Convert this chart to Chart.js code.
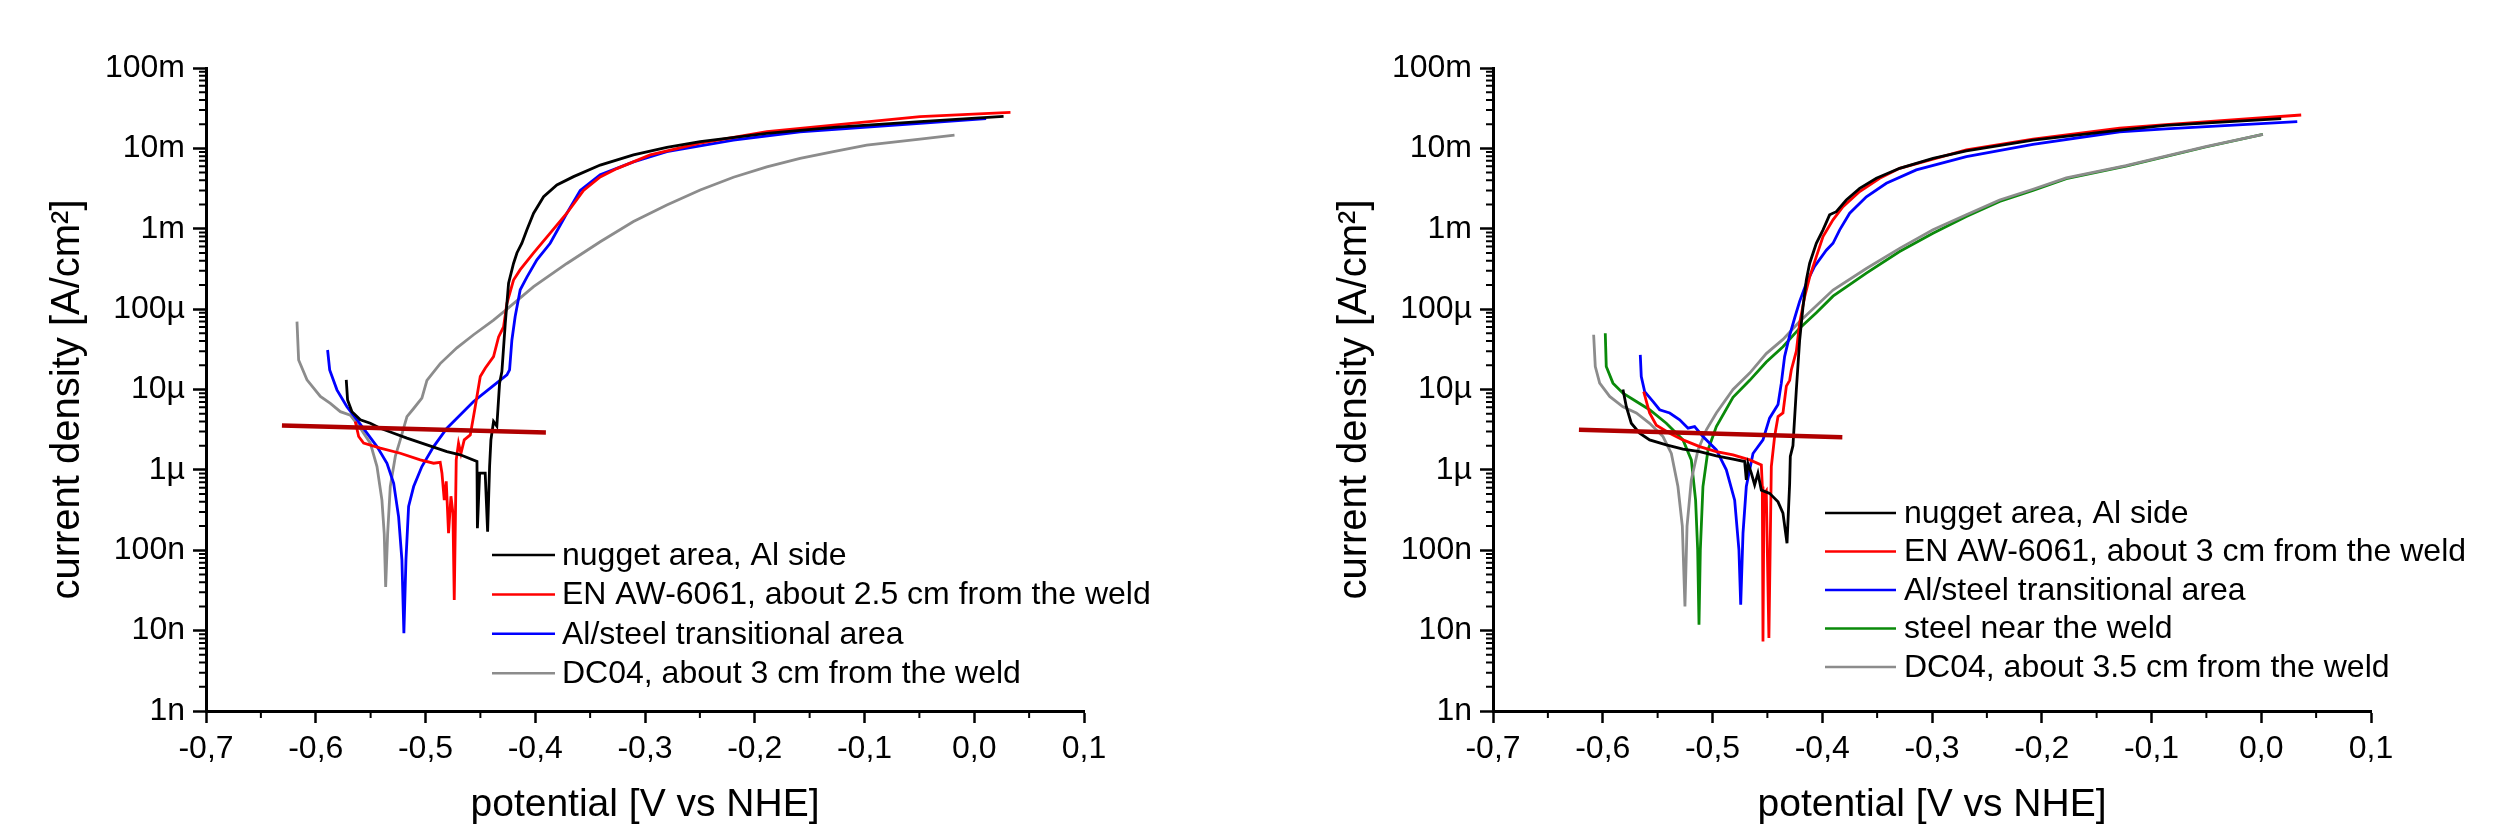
<!DOCTYPE html>
<html>
<head>
<meta charset="utf-8">
<title>Polarization curves</title>
<script src="https://cdn.jsdelivr.net/npm/chart.js@4.4.1/dist/chart.umd.min.js"></script>
<style>
  html, body { margin: 0; padding: 0; background: #fff; }
  #wrap { position: relative; width: 2499px; height: 837px; }
  canvas { position: absolute; top: 0; }
  #leftChart { left: 0; }
  #rightChart { left: 1250px; }
</style>
</head>
<body>
<div id="wrap">
  <canvas id="leftChart" width="1250" height="837"></canvas>
  <canvas id="rightChart" width="1249" height="837"></canvas>
</div>
<script>
// Axis ticks
const xTickValues = [-0.7, -0.6, -0.5, -0.4, -0.3, -0.2, -0.1, 0.0, 0.1];
const xTickLabels = ['-0,7', '-0,6', '-0,5', '-0,4', '-0,3', '-0,2', '-0,1', '0,0', '0,1'];
const xMinorValues = [-0.65, -0.55, -0.45, -0.35, -0.25, -0.15, -0.05, 0.05];
const yTickValues = [1e-9, 1e-8, 1e-7, 1e-6, 1e-5, 1e-4, 1e-3, 1e-2, 1e-1];
const yTickLabels = ['1n', '10n', '100n', '1µ', '10µ', '100µ', '1m', '10m', '100m'];
const yMinorSteps = [2, 3, 4, 5, 6, 7, 8, 9];

// Legend labels
const leftLabels = ['nugget area, Al side', 'EN AW-6061, about 2.5 cm from the weld', 'Al/steel transitional area', 'DC04, about 3 cm from the weld'];
const rightLabels = ['nugget area, Al side', 'EN AW-6061, about 3 cm from the weld', 'Al/steel transitional area', 'steel near the weld', 'DC04, about 3.5 cm from the weld'];

// ---- left panel: potential [V] and current density [A/cm2]
const leftNuggetV = [-0.5722, -0.571, -0.567, -0.5594, -0.5503, -0.5412, -0.529, -0.5169, -0.4987, -0.4805, -0.4683, -0.4531, -0.4527, -0.4507, -0.4456, -0.4434, -0.4416, -0.4404, -0.438, -0.435, -0.4325, -0.4304, -0.4273, -0.4243, -0.4198, -0.4167, -0.4122, -0.4076, -0.4015, -0.3924, -0.3803, -0.3651, -0.3408, -0.3105, -0.2801, -0.2497, -0.189, -0.1283, -0.0494, 0.0267];
const leftNuggetI = [1.32e-5, 7.4e-6, 5.3e-6, 4.2e-6, 3.8e-6, 3.3e-6, 2.86e-6, 2.48e-6, 2.05e-6, 1.69e-6, 1.54e-6, 1.27e-6, 1.88e-7, 9.1e-7, 9.1e-7, 1.7e-7, 1.1e-6, 2.36e-6, 4.0e-6, 3.5e-6, 1.2e-5, 1.67e-5, 6.7e-5, 2.1e-4, 3.7e-4, 5.0e-4, 6.6e-4, 9.7e-4, 1.56e-3, 2.5e-3, 3.5e-3, 4.45e-3, 6.2e-3, 8.3e-3, 1.03e-2, 1.21e-2, 1.54e-2, 1.83e-2, 2.15e-2, 2.5e-2];

const leftAw6061V = [-0.564, -0.5609, -0.5564, -0.5412, -0.523, -0.5048, -0.4926, -0.4866, -0.485, -0.4829, -0.4811, -0.479, -0.4768, -0.475, -0.4738, -0.472, -0.4699, -0.4677, -0.4647, -0.4592, -0.4547, -0.4501, -0.4456, -0.438, -0.4334, -0.4289, -0.4258, -0.4198, -0.4137, -0.4015, -0.3864, -0.3712, -0.356, -0.3408, -0.3256, -0.2953, -0.2497, -0.189, -0.1283, -0.0494, 0.033];
const leftAw6061I = [4.0e-6, 2.6e-6, 2.15e-6, 1.86e-6, 1.61e-6, 1.33e-6, 1.21e-6, 1.24e-6, 9.1e-7, 4.2e-7, 7.2e-7, 1.63e-7, 4.7e-7, 2.9e-7, 2.4e-8, 1.33e-6, 2.15e-6, 1.6e-6, 2.36e-6, 2.72e-6, 6.1e-6, 1.45e-5, 1.84e-5, 2.57e-5, 4.5e-5, 6.0e-5, 1.18e-4, 2.3e-4, 3.1e-4, 5.0e-4, 8.8e-4, 1.56e-3, 3.0e-3, 4.4e-3, 5.6e-3, 8.3e-3, 1.16e-2, 1.61e-2, 1.95e-2, 2.48e-2, 2.8e-2];

const leftTransV = [-0.5892, -0.5873, -0.5807, -0.5716, -0.5624, -0.5533, -0.5442, -0.5351, -0.529, -0.5245, -0.5215, -0.5197, -0.5178, -0.5154, -0.5108, -0.5033, -0.4926, -0.4805, -0.4714, -0.4562, -0.441, -0.4258, -0.4234, -0.4213, -0.4183, -0.4137, -0.4076, -0.3985, -0.3864, -0.3712, -0.359, -0.3408, -0.3105, -0.2801, -0.2194, -0.1587, -0.0494, 0.0108];
const leftTransI = [3.1e-5, 1.75e-5, 9.9e-6, 6.1e-6, 4.2e-6, 2.86e-6, 1.95e-6, 1.21e-6, 6.8e-7, 2.6e-7, 7.6e-8, 9.3e-9, 7.6e-8, 3.5e-7, 6.2e-7, 1.1e-6, 1.95e-6, 3.3e-6, 4.4e-6, 7.1e-6, 1.04e-5, 1.52e-5, 1.75e-5, 4.1e-5, 8.1e-5, 1.74e-4, 2.5e-4, 4.1e-4, 6.6e-4, 1.56e-3, 3.0e-3, 4.7e-3, 6.8e-3, 9.1e-3, 1.27e-2, 1.61e-2, 2.05e-2, 2.35e-2];

const leftDc04V = [-0.6171, -0.6156, -0.608, -0.5958, -0.5867, -0.5776, -0.5685, -0.5594, -0.5503, -0.5442, -0.5397, -0.5376, -0.5363, -0.5345, -0.5321, -0.5275, -0.523, -0.5169, -0.5108, -0.5033, -0.4987, -0.4866, -0.4714, -0.4562, -0.438, -0.4258, -0.4015, -0.3712, -0.3408, -0.3105, -0.2801, -0.2497, -0.2194, -0.189, -0.1587, -0.1283, -0.098, -0.0494, -0.018];
const leftDc04I = [7.0e-5, 2.33e-5, 1.32e-5, 8.2e-6, 6.7e-6, 5.3e-6, 4.8e-6, 3.3e-6, 2.15e-6, 1.1e-6, 4.2e-7, 1.6e-7, 3.5e-8, 1.6e-7, 6.2e-7, 1.47e-6, 2.36e-6, 4.6e-6, 5.8e-6, 7.8e-6, 1.3e-5, 2.1e-5, 3.3e-5, 4.8e-5, 7.3e-5, 1.0e-4, 1.9e-4, 3.7e-4, 6.9e-4, 1.23e-3, 1.98e-3, 3.04e-3, 4.37e-3, 5.9e-3, 7.5e-3, 9.1e-3, 1.1e-2, 1.3e-2, 1.46e-2];

const leftFitV = [-0.6308, -0.3903];
const leftFitI = [3.56e-6, 2.91e-6];

// ---- right panel
const rightNuggetV = [-0.5816, -0.5785, -0.574, -0.5664, -0.5573, -0.5421, -0.5269, -0.5117, -0.4965, -0.4813, -0.4707, -0.4692, -0.4677, -0.4646, -0.4616, -0.4586, -0.4555, -0.4479, -0.4403, -0.4358, -0.4321, -0.4297, -0.4291, -0.4267, -0.4236, -0.4206, -0.4175, -0.4145, -0.4115, -0.4054, -0.3993, -0.3933, -0.3872, -0.3781, -0.3659, -0.3507, -0.3295, -0.2991, -0.2687, -0.208, -0.129, -0.0871, 0.0182];
const rightNuggetI = [1.0e-5, 6.1e-6, 3.8e-6, 2.86e-6, 2.36e-6, 2.05e-6, 1.81e-6, 1.69e-6, 1.49e-6, 1.36e-6, 1.27e-6, 7.5e-7, 1.2e-6, 9.1e-7, 6.5e-7, 9.1e-7, 5.6e-7, 5.1e-7, 4.0e-7, 2.9e-7, 1.22e-7, 6.8e-7, 1.47e-6, 2.0e-6, 1.0e-5, 4.1e-5, 1.08e-4, 2.3e-4, 3.7e-4, 6.6e-4, 9.7e-4, 1.49e-3, 1.63e-3, 2.28e-3, 3.18e-3, 4.25e-3, 5.65e-3, 7.5e-3, 9.3e-3, 1.27e-2, 1.69e-2, 1.93e-2, 2.35e-2];

const rightAw6061V = [-0.5627, -0.5573, -0.5512, -0.539, -0.5269, -0.5117, -0.4965, -0.4813, -0.4661, -0.4555, -0.4546, -0.454, -0.4531, -0.451, -0.4486, -0.4464, -0.4434, -0.4403, -0.4358, -0.4327, -0.4297, -0.4282, -0.4236, -0.4206, -0.416, -0.4115, -0.4054, -0.3993, -0.3902, -0.3811, -0.3659, -0.3477, -0.3295, -0.2687, -0.208, -0.129, -0.0871, 0.0364];
const rightAw6061I = [9.4e-6, 5.1e-6, 3.6e-6, 2.86e-6, 2.36e-6, 1.95e-6, 1.69e-6, 1.54e-6, 1.33e-6, 1.15e-6, 6.2e-7, 7.3e-9, 5.0e-7, 5.5e-7, 8.1e-9, 1.1e-6, 2.6e-6, 4.6e-6, 5.1e-6, 1.1e-5, 1.3e-5, 1.75e-5, 3.0e-5, 6.7e-5, 1.43e-4, 2.5e-4, 4.5e-4, 8.0e-4, 1.29e-3, 1.88e-3, 2.9e-3, 4.25e-3, 5.65e-3, 9.6e-3, 1.3e-2, 1.78e-2, 1.98e-2, 2.6e-2];

const rightTransV = [-0.5658, -0.5649, -0.5618, -0.5543, -0.5482, -0.539, -0.5299, -0.5223, -0.5163, -0.5087, -0.4965, -0.4874, -0.4798, -0.4759, -0.4743, -0.4722, -0.4692, -0.4631, -0.454, -0.448, -0.4403, -0.4373, -0.4343, -0.4297, -0.4252, -0.4206, -0.4145, -0.407, -0.3963, -0.3902, -0.3841, -0.375, -0.3598, -0.3416, -0.3143, -0.2687, -0.208, -0.129, -0.087, 0.0328];
const rightTransI = [2.7e-5, 1.45e-5, 9.4e-6, 7.1e-6, 5.6e-6, 5.1e-6, 4.2e-6, 3.3e-6, 3.46e-6, 2.6e-6, 1.77e-6, 1.0e-6, 4.2e-7, 1.0e-7, 2.1e-8, 1.63e-7, 6.2e-7, 1.6e-6, 2.36e-6, 4.4e-6, 6.5e-6, 1.2e-5, 2.57e-5, 4.7e-5, 7.7e-5, 1.25e-4, 2.1e-4, 3.4e-4, 5.4e-4, 6.6e-4, 9.7e-4, 1.56e-3, 2.5e-3, 3.68e-3, 5.4e-3, 7.9e-3, 1.12e-2, 1.61e-2, 1.75e-2, 2.15e-2];

const rightSteelV = [-0.5977, -0.5968, -0.5907, -0.5816, -0.5694, -0.5573, -0.5421, -0.5269, -0.5193, -0.5154, -0.5135, -0.5123, -0.5111, -0.5087, -0.5041, -0.4965, -0.4813, -0.4661, -0.451, -0.4358, -0.4206, -0.4054, -0.3902, -0.3598, -0.3295, -0.2991, -0.2687, -0.2384, -0.208, -0.1776, -0.1233, -0.0507, 0.0015];
const rightSteelI = [5.0e-5, 1.93e-5, 1.2e-5, 9.0e-6, 7.1e-6, 5.6e-6, 3.8e-6, 2.36e-6, 1.33e-6, 4.2e-7, 1.0e-7, 1.18e-8, 1.0e-7, 6.2e-7, 1.77e-6, 3.46e-6, 8.0e-6, 1.3e-5, 2.2e-5, 3.4e-5, 5.8e-5, 9.0e-5, 1.45e-4, 2.8e-4, 5.2e-4, 8.8e-4, 1.42e-3, 2.18e-3, 3.0e-3, 4.2e-3, 6.0e-3, 1.04e-2, 1.49e-2];

const rightDc04V = [-0.6083, -0.6068, -0.6028, -0.5937, -0.5816, -0.5694, -0.5573, -0.5451, -0.5375, -0.5315, -0.5275, -0.5251, -0.5232, -0.5193, -0.5132, -0.5056, -0.4965, -0.4813, -0.4661, -0.451, -0.4358, -0.4206, -0.3902, -0.3598, -0.3295, -0.2991, -0.2687, -0.2384, -0.208, -0.1776, -0.1233, -0.0507, 0.0015];
const rightDc04I = [4.8e-5, 1.93e-5, 1.2e-5, 8.2e-6, 6.1e-6, 5.1e-6, 3.8e-6, 2.6e-6, 1.6e-6, 6.2e-7, 2.0e-7, 2.0e-8, 2.0e-7, 7.5e-7, 1.77e-6, 3.15e-6, 5.1e-6, 1.0e-5, 1.6e-5, 2.8e-5, 4.2e-5, 7.0e-5, 1.73e-4, 3.2e-4, 5.7e-4, 9.7e-4, 1.49e-3, 2.28e-3, 3.1e-3, 4.3e-3, 6.1e-3, 1.05e-2, 1.49e-2];

const rightFitV = [-0.6217, -0.3817];
const rightFitI = [3.15e-6, 2.55e-6];

// colours
const cBlack = '#000000', cRed = '#ff0000', cBlue = '#0000ff', cGreen = '#0a8a0a', cGray = '#8c8c8c', cFit = '#b00000';

Chart.defaults.font.family = '"Liberation Sans", Arial, sans-serif';
Chart.defaults.color = '#000';

// minor ticks on both axes
const minorTicks = {
    id: 'minorTicks',
    afterDraw(chart) {
        const { ctx, scales: { x, y } } = chart;
        ctx.save();
        ctx.strokeStyle = '#000';
        ctx.lineWidth = 2;
        ctx.beginPath();
        for (let d = 0; d < yTickValues.length - 1; d++) {
            yMinorSteps.forEach(k => {
                const py = y.getPixelForValue(k * yTickValues[d]);
                ctx.moveTo(y.right - 7, py);
                ctx.lineTo(y.right, py);
            });
        }
        xMinorValues.forEach(v => {
            const px = x.getPixelForValue(v);
            ctx.moveTo(px, x.top);
            ctx.lineTo(px, x.top + 7);
        });
        ctx.stroke();
        ctx.restore();
    }
};

// legend drawn inside the plot, like the original
const panelLegend = {
    id: 'panelLegend',
    afterDraw(chart, args, opts) {
        const ctx = chart.ctx;
        const items = chart.data.datasets.filter(d => d.inLegend);
        ctx.save();
        ctx.font = '32px "Liberation Sans", Arial, sans-serif';
        ctx.textBaseline = 'middle';
        ctx.fillStyle = '#000';
        items.forEach((d, i) => {
            const yy = opts.top + i * opts.gap;
            ctx.strokeStyle = d.borderColor;
            ctx.lineWidth = 2.5;
            ctx.beginPath();
            ctx.moveTo(opts.left, yy);
            ctx.lineTo(opts.left + opts.lineLen, yy);
            ctx.stroke();
            ctx.fillText(d.label, opts.left + opts.lineLen + opts.textGap, yy + 1);
        });
        ctx.restore();
    }
};

// order: higher numbers are drawn first (underneath)
function series(label, vs, is, color, width, inLegend, order) {
    return {
        label: label,
        data: vs.map((v, k) => ({ x: v, y: is[k] })),
        borderColor: color,
        borderWidth: width,
        pointRadius: 0,
        tension: 0,
        fill: false,
        inLegend: inLegend,
        order: order
    };
}

function makePanel(canvasId, datasets, axisLeft, padRight, legendOpts) {
    return new Chart(document.getElementById(canvasId), {
        type: 'line',
        data: { datasets: datasets },
        options: {
            responsive: false,
            animation: false,
            devicePixelRatio: 1,
            layout: { padding: { top: 68, right: padRight, left: 0, bottom: 0 } },
            plugins: {
                legend: { display: false },
                tooltip: { enabled: false },
                panelLegend: legendOpts
            },
            scales: {
                x: {
                    type: 'linear',
                    min: -0.7,
                    max: 0.1,
                    afterBuildTicks: sc => { sc.ticks = xTickValues.map(v => ({ value: v })); },
                    afterFit: sc => { sc.height = 126; },
                    ticks: {
                        callback: (v, idx) => xTickLabels[idx],
                        font: { size: 32 },
                        color: '#000',
                        padding: 7,
                        maxRotation: 0,
                        autoSkip: false
                    },
                    grid: { display: true, drawOnChartArea: false, drawTicks: true, tickLength: 12, tickWidth: 2.5, tickColor: '#000' },
                    border: { display: true, color: '#000', width: 3 },
                    title: { display: true, text: 'potential [V vs NHE]', font: { size: 39 }, color: '#000', padding: { top: 0, bottom: 8 } }
                },
                y: {
                    type: 'logarithmic',
                    min: 1e-9,
                    max: 1e-1,
                    afterBuildTicks: sc => { sc.ticks = yTickValues.map(v => ({ value: v })); },
                    afterFit: sc => { sc.width = axisLeft; },
                    ticks: {
                        callback: (v, idx) => yTickLabels[idx],
                        font: { size: 32 },
                        color: '#000',
                        padding: 8,
                        autoSkip: false
                    },
                    grid: { display: true, drawOnChartArea: false, drawTicks: true, tickLength: 13, tickWidth: 2.5, tickColor: '#000' },
                    border: { display: true, color: '#000', width: 3 },
                    // trailing en space nudges the centred title slightly down, as in the original
                    title: { display: true, text: 'current density [A/cm²]\u2002', font: { size: 40 }, color: '#000', padding: { top: axisLeft - 162, bottom: 0 } }
                }
            }
        },
        plugins: [minorTicks, panelLegend]
    });
}

document.addEventListener('DOMContentLoaded', function () {
    makePanel('leftChart', [
        series('fit', leftFitV, leftFitI, cFit, 4.5, false, 0),
        series(leftLabels[0], leftNuggetV, leftNuggetI, cBlack, 2.8, true, 1),
        series(leftLabels[1], leftAw6061V, leftAw6061I, cRed, 2.8, true, 2),
        series(leftLabels[2], leftTransV, leftTransI, cBlue, 2.8, true, 3),
        series(leftLabels[3], leftDc04V, leftDc04I, cGray, 2.8, true, 4)
    ], 206, 166, { left: 492, top: 555, gap: 39.4, lineLen: 63, textGap: 7 });

    makePanel('rightChart', [
        series('fit', rightFitV, rightFitI, cFit, 4.5, false, 0),
        series(rightLabels[0], rightNuggetV, rightNuggetI, cBlack, 2.8, true, 1),
        series(rightLabels[1], rightAw6061V, rightAw6061I, cRed, 2.8, true, 2),
        series(rightLabels[2], rightTransV, rightTransI, cBlue, 2.8, true, 3),
        series(rightLabels[3], rightSteelV, rightSteelI, cGreen, 2.8, true, 5),
        series(rightLabels[4], rightDc04V, rightDc04I, cGray, 2.8, true, 4)
    ], 243, 128, { left: 575, top: 513, gap: 38.5, lineLen: 71, textGap: 8 });
});
</script>
</body>
</html>
